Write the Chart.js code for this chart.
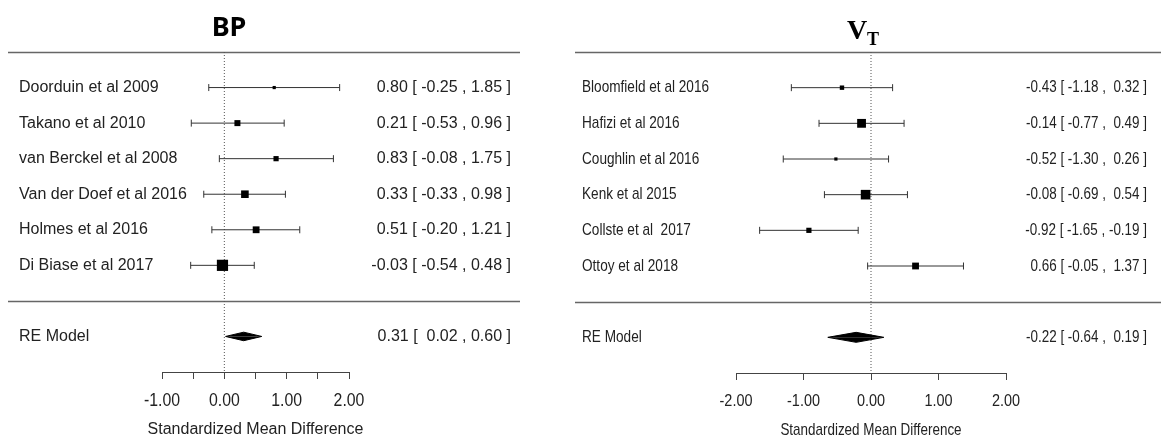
<!DOCTYPE html>
<html>
<head>
<meta charset="utf-8">
<script src="https://cdn.jsdelivr.net/npm/chart.js@4.4.0/dist/chart.umd.min.js"></script>
<style>
  html, body { margin: 0; padding: 0; background: #fff; }
  #wrap { position: relative; width: 1161px; height: 438px; }
  #bp { position: absolute; left: 0; top: 0; }
  #vt { position: absolute; left: 570px; top: 0; }
</style>
</head>
<body>
<div id="wrap">
  <canvas id="bp" width="570" height="438"></canvas>
  <canvas id="vt" width="591" height="438"></canvas>
</div>
<script>
// ---- BP panel data ----
const bpStudies = ["Doorduin et al 2009", "Takano et al 2010", "van Berckel et al 2008",
                   "Van der Doef et al 2016", "Holmes et al 2016", "Di Biase et al 2017"];
const bpEst   = [0.80, 0.21, 0.83, 0.33, 0.51, -0.03];
const bpLower = [-0.25, -0.53, -0.08, -0.33, -0.20, -0.54];
const bpUpper = [1.85, 0.96, 1.75, 0.98, 1.21, 0.48];
const bpWeights = [8, 15, 13, 19, 17, 28];
const bpModel = [0.31, 0.02, 0.60]; // estimate, lower, upper
const bpTicks = [-1, -0.5, 0, 0.5, 1, 1.5, 2];
const bpTickLabels = ["-1.00", "", "0.00", "", "1.00", "", "2.00"];

// ---- VT panel data ----
const vtStudies = ["Bloomfield et al 2016", "Hafizi et al 2016", "Coughlin et al 2016",
                   "Kenk et al 2015", "Collste et al  2017", "Ottoy et al 2018"];
const vtEst   = [-0.43, -0.14, -0.52, -0.08, -0.92, 0.66];
const vtLower = [-1.18, -0.77, -1.30, -0.69, -1.65, -0.05];
const vtUpper = [0.32, 0.49, 0.26, 0.54, -0.19, 1.37];
const vtWeights = [11, 22, 8, 24, 13, 17];
const vtModel = [-0.22, -0.64, 0.19];
const vtTicks = [-2, -1, 0, 1, 2];
const vtTickLabels = ["-2.00", "-1.00", "0.00", "1.00", "2.00"];

const modelLabel = "RE Model";
const xTitle = "Standardized Mean Difference";

const TEXT = '#222';
const SANS = '"Liberation Sans", Arial, sans-serif';

function drawText(ctx, s, x, y, align, font, squeeze) {
  ctx.save();
  ctx.font = font;
  ctx.fillStyle = TEXT;
  ctx.textAlign = align;
  ctx.textBaseline = 'middle';
  ctx.translate(x, y);
  ctx.scale(squeeze, 1);
  ctx.fillText(s, 0, 0);
  ctx.restore();
}

// metafor-style column formatting: pad each column to a common width
function fmtColumn(vals) {
  const s = vals.map(v => v.toFixed(2));
  const w = Math.max(...s.map(t => t.length));
  return s.map(t => t.padStart(w, ' '));
}

function forest(canvasId, p) {
  const n = p.studies.length;
  const rows = p.studies.map((_, i) => i + 1);
  const sepRow = n + 1;
  const modelRow = n + 2;
  const yMax = n + 3;

  const eCol = fmtColumn(p.est.concat([p.model[0]]));
  const lCol = fmtColumn(p.lower.concat([p.model[1]]));
  const hCol = fmtColumn(p.upper.concat([p.model[2]]));
  const annot = eCol.map((e, i) => e + ' [ ' + lCol[i] + ' , ' + hCol[i] + ' ]');

  const datasets = [];
  // study squares (size from weight)
  datasets.push({
    data: p.est.map((v, i) => ({x: v, y: rows[i]})),
    pointStyle: 'rect',
    pointRadius: p.weights.map(w => w * p.sizePerWeight / 2 / Math.SQRT1_2),
    backgroundColor: '#000', borderWidth: 0, clip: false
  });
  // summary diamond, upper and lower halves
  [-p.diamondHalf, p.diamondHalf].forEach(h => {
    datasets.push({
      data: [{x: p.model[1], y: modelRow}, {x: p.model[0], y: modelRow + h}, {x: p.model[2], y: modelRow}],
      showLine: true, fill: {value: modelRow},
      backgroundColor: '#000', borderColor: '#000', borderWidth: 1,
      pointRadius: 0, clip: false
    });
  });
  // CI end caps
  datasets.push({
    data: p.lower.map((v, i) => ({x: v, y: rows[i]})).concat(p.upper.map((v, i) => ({x: v, y: rows[i]}))),
    pointStyle: 'line', rotation: 90, pointRadius: 3.5,
    borderColor: '#333', borderWidth: 1, clip: false
  });
  // CI lines
  p.studies.forEach((_, i) => {
    datasets.push({
      data: [{x: p.lower[i], y: rows[i]}, {x: p.upper[i], y: rows[i]}],
      showLine: true, borderColor: '#333', borderWidth: 1, pointRadius: 0, clip: false
    });
  });
  // reference line at zero
  datasets.push({
    data: [{x: 0, y: 0}, {x: 0, y: yMax}],
    showLine: true, borderColor: '#555', borderWidth: 1, borderDash: [1, 2],
    pointRadius: 0, clip: false
  });

  const forestText = {
    id: 'forestText',
    beforeDatasetsDraw(chart) {
      const ctx = chart.ctx;
      const y = chart.scales.y;
      ctx.save();
      ctx.strokeStyle = '#666';
      ctx.lineWidth = 1.5;
      [0, sepRow].forEach(r => {
        const py = Math.round(y.getPixelForValue(r)) + 0.5;
        ctx.beginPath();
        ctx.moveTo(p.ruleFrom, py);
        ctx.lineTo(p.ruleTo, py);
        ctx.stroke();
      });
      ctx.restore();
    },
    afterDraw(chart) {
      const ctx = chart.ctx;
      const x = chart.scales.x;
      const y = chart.scales.y;
      const f = p.fontSize + 'px ' + SANS;
      p.studies.forEach((s, i) => {
        drawText(ctx, s, p.labelX, y.getPixelForValue(rows[i]), 'left', f, p.squeeze);
        drawText(ctx, annot[i], p.annotX, y.getPixelForValue(rows[i]), 'right', f, p.annotSqueeze);
      });
      drawText(ctx, modelLabel, p.labelX, y.getPixelForValue(modelRow), 'left', f, p.squeeze);
      drawText(ctx, annot[n], p.annotX, y.getPixelForValue(modelRow), 'right', f, p.annotSqueeze);
      p.ticks.forEach((v, i) => {
        if (p.tickLabels[i]) {
          drawText(ctx, p.tickLabels[i], x.getPixelForValue(v), p.tickLabelY, 'center',
                   p.tickFontSize + 'px ' + SANS, p.tickSqueeze);
        }
      });
      const mid = (x.left + x.right) / 2;
      drawText(ctx, xTitle, mid, p.xTitleY, 'center', p.fontSize + 'px ' + SANS, p.annotSqueeze);
      p.drawTitle(ctx);
    }
  };

  return new Chart(document.getElementById(canvasId), {
    type: 'scatter',
    data: {datasets},
    options: {
      responsive: false,
      animation: false,
      events: [],
      layout: {padding: {left: p.padLeft, right: p.padRight, top: p.padTop, bottom: 0}},
      plugins: {legend: {display: false}, tooltip: {enabled: false}},
      scales: {
        x: {
          type: 'linear', min: p.ticks[0], max: p.ticks[p.ticks.length - 1],
          afterBuildTicks: s => { s.ticks = p.ticks.map(v => ({value: v})); },
          afterFit: s => { s.height = p.axisHeight; },
          ticks: {display: false},
          grid: {drawOnChartArea: false, drawTicks: true, tickLength: 7, color: '#444', lineWidth: 1},
          border: {display: true, color: '#444', width: 1}
        },
        y: {type: 'linear', display: false, reverse: true, min: 0, max: yMax}
      }
    },
    plugins: [forestText]
  });
}

forest('bp', {
  studies: bpStudies, est: bpEst, lower: bpLower, upper: bpUpper, weights: bpWeights,
  model: bpModel, ticks: bpTicks, tickLabels: bpTickLabels,
  sizePerWeight: 0.4, diamondHalf: 0.12,
  padLeft: 162, padRight: 221, padTop: 52, axisHeight: 66,
  labelX: 19, annotX: 511, ruleFrom: 8, ruleTo: 520,
  fontSize: 16, squeeze: 1, annotSqueeze: 1, tickFontSize: 18, tickSqueeze: 0.88,
  tickLabelY: 401, xTitleY: 430,
  drawTitle(ctx) {
    ctx.save();
    ctx.fillStyle = '#000';
    ctx.font = 'bold 27px "Noto Sans", Lato, sans-serif';
    ctx.textAlign = 'center';
    ctx.textBaseline = 'alphabetic';
    ctx.fillText('BP', 229, 36);
    ctx.restore();
  }
});

forest('vt', {
  studies: vtStudies, est: vtEst, lower: vtLower, upper: vtUpper, weights: vtWeights,
  model: vtModel, ticks: vtTicks, tickLabels: vtTickLabels,
  sizePerWeight: 0.4, diamondHalf: 0.14,
  padLeft: 166, padRight: 155, padTop: 52, axisHeight: 65,
  labelX: 12, annotX: 577, ruleFrom: 5, ruleTo: 591,
  fontSize: 17, squeeze: 0.8, annotSqueeze: 0.79, tickFontSize: 17, tickSqueeze: 0.85,
  tickLabelY: 401, xTitleY: 430,
  drawTitle(ctx) {
    ctx.save();
    ctx.fillStyle = '#000';
    ctx.textBaseline = 'alphabetic';
    ctx.textAlign = 'left';
    ctx.font = 'bold 28px "Liberation Serif", "DejaVu Serif", serif';
    ctx.fillText('V', 277, 39);
    ctx.font = 'bold 18px "Liberation Serif", "DejaVu Serif", serif';
    ctx.fillText('T', 297, 45);
    ctx.restore();
  }
});
</script>
</body>
</html>
